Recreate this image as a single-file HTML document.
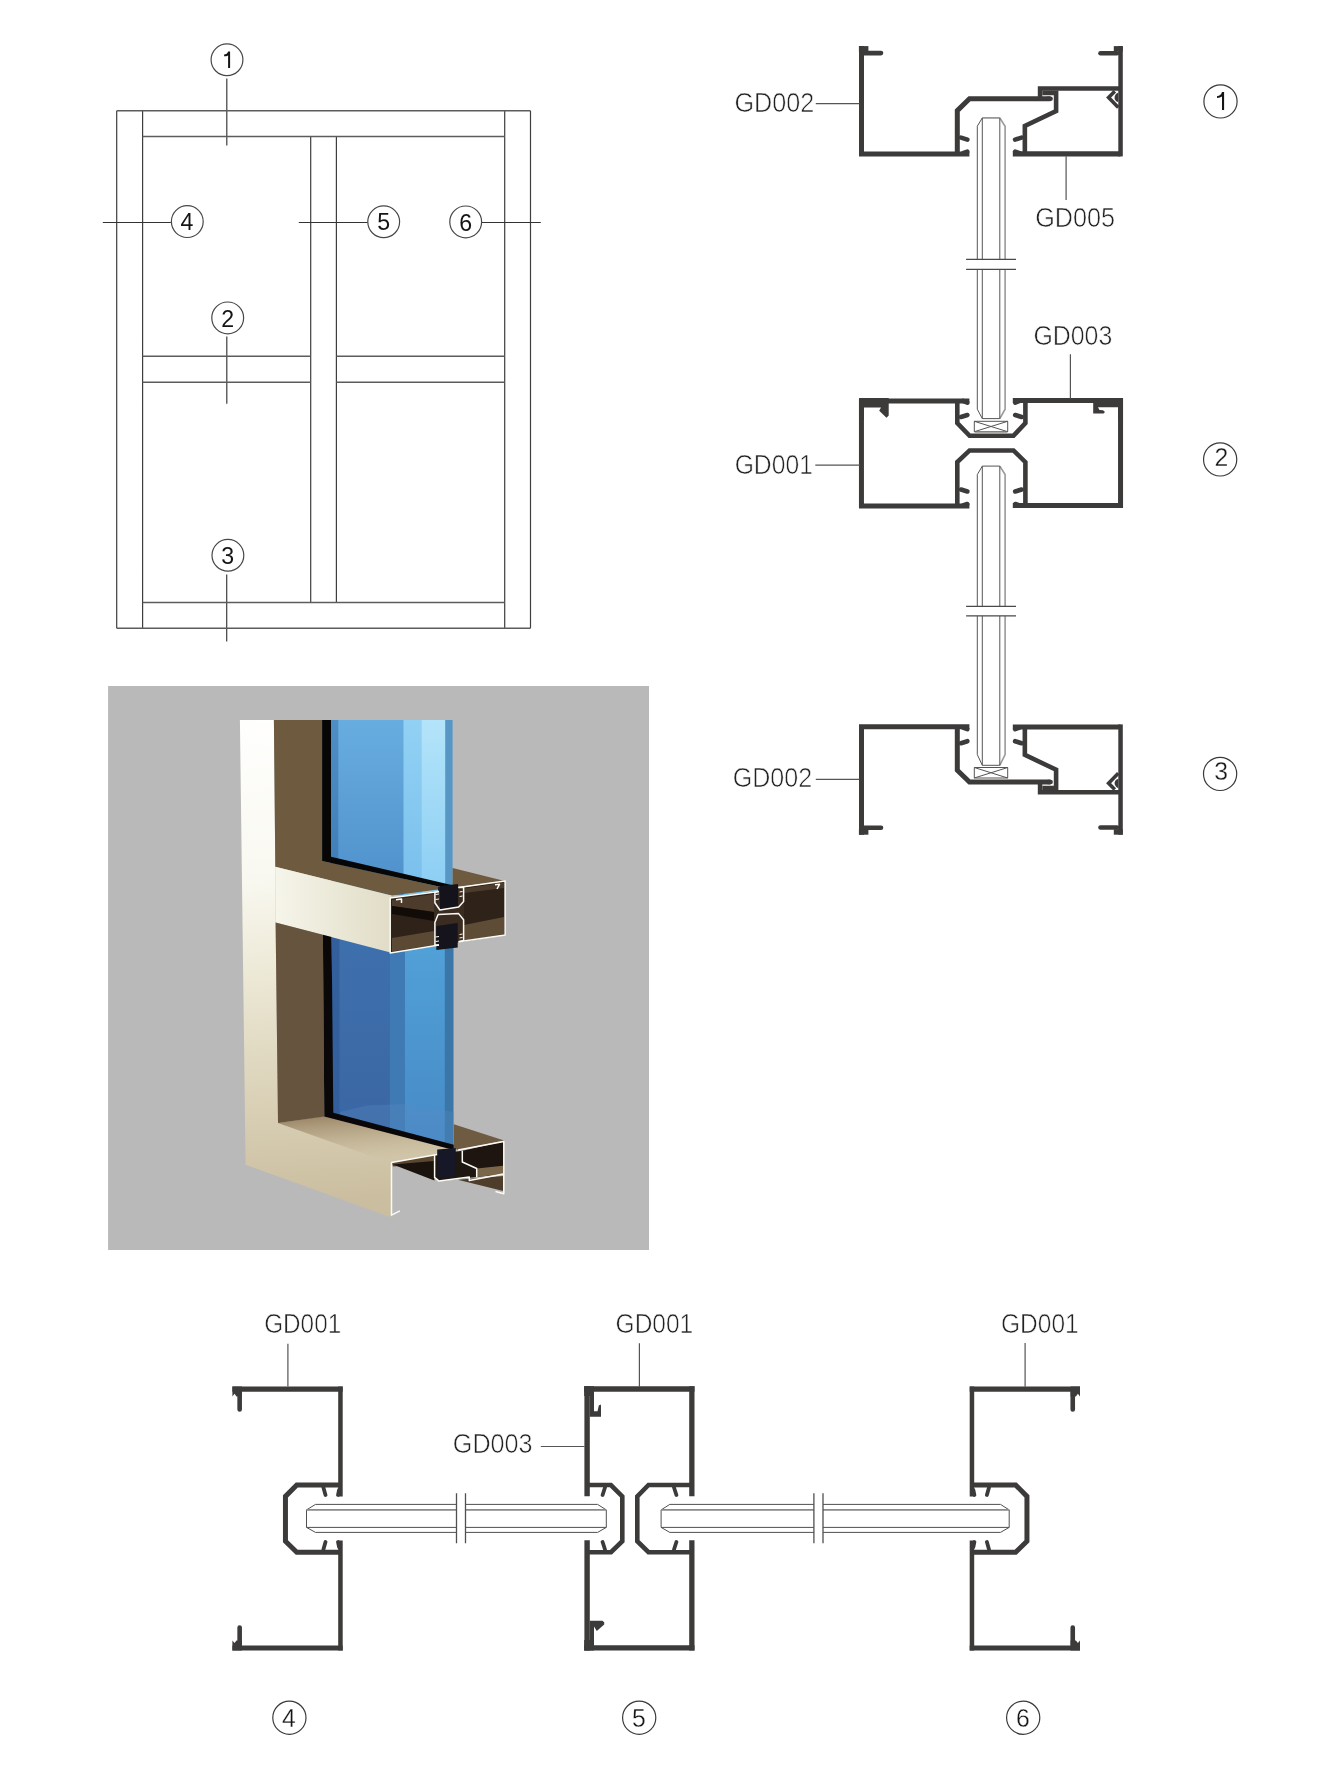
<!DOCTYPE html>
<html><head><meta charset="utf-8">
<style>
html,body{margin:0;padding:0;background:#fff;}
body{width:1342px;height:1780px;overflow:hidden;}
svg{display:block;will-change:transform;}
text{font-family:"Liberation Sans",sans-serif;}
</style></head>
<body>
<svg width="1342" height="1780" viewBox="0 0 1342 1780">
<rect width="1342" height="1780" fill="#fff"/>

<!-- ===== ELEVATION ===== -->
<g id="elev" stroke="#474747" stroke-width="1.3" fill="none">
  <path d="M116.7 110.7V628.2M530.5 110.7V628.2M142.6 110.7V628.2M504.7 110.7V628.2M310.7 136.6V602.4M336.4 136.6V602.4M226.8 78.6V145.6M226.8 336.4V403.8M226.7 574.5V641.6" stroke="#3e3e3e" stroke-width="1.2"/>
  <path d="M116.7 110.7H530.5M116.7 628.2H530.5M142.6 136.6H504.7M142.6 602.4H504.7M142.6 356.2H310.7M142.6 382.2H310.7M336.4 356.2H504.7M336.4 382.2H504.7" stroke="#5c5c5c" stroke-width="1.5"/>
  <path d="M102.8 222.5H170.9M298.8 222.5H367.6M482 222.5H540.8" stroke="#333" stroke-width="1.15"/>
  <g stroke-width="1.2">
  <circle cx="227" cy="59.8" r="15.9"/>
  <circle cx="227.7" cy="317.9" r="15.9"/>
  <circle cx="227.9" cy="555.3" r="15.9"/>
  <circle cx="187.3" cy="221.6" r="15.9"/>
  <circle cx="383.7" cy="221.8" r="15.9"/>
  <circle cx="465.7" cy="221.9" r="15.9"/>
  </g>
</g>
<g id="elevnums" fill="#151515" font-size="24" text-anchor="middle">
  <text transform="translate(227.7 326.6) scale(0.965 1)">2</text>
  <text transform="translate(227.7 563.8) scale(0.965 1)">3</text>
  <text transform="translate(187.0 229.9) scale(0.965 1)">4</text>
  <text transform="translate(383.6 230.3) scale(0.965 1)">5</text>
  <text transform="translate(465.8 230.5) scale(0.965 1)">6</text>
</g>

<path d="M228.1 51.5H230.1V68H228.1V55.4C227 56 225.5 56.3 224.1 56.3V54.6C226 54.5 227.6 53.4 228.1 51.5Z" fill="#151515"/>
<path d="M1222 92.1H1224.1V110H1222V96.6C1220.8 97.4 1219 97.9 1217 97.9V96.2C1219.5 96.1 1221.3 94.8 1222 92.1Z" fill="#151515"/>
<!-- ===== PHOTO ===== -->
<g id="photo">
  <defs>
    <linearGradient id="cream" gradientUnits="userSpaceOnUse" x1="0" y1="720" x2="30" y2="1217">
      <stop offset="0" stop-color="#ffffff"/>
      <stop offset="0.35" stop-color="#f9f8f0"/>
      <stop offset="0.55" stop-color="#ece8d5"/>
      <stop offset="0.75" stop-color="#ddd5bc"/>
      <stop offset="1" stop-color="#cbbea0"/>
    </linearGradient>
    <linearGradient id="trface" x1="0" y1="0" x2="1" y2="0">
      <stop offset="0" stop-color="#f6f5ea"/>
      <stop offset="1" stop-color="#e0dcc6"/>
    </linearGradient>
    <linearGradient id="g1" x1="0" y1="0" x2="0" y2="1">
      <stop offset="0" stop-color="#68ade0"/>
      <stop offset="1" stop-color="#4e8fca"/>
    </linearGradient>
    <linearGradient id="ga" x1="0" y1="0" x2="0" y2="1">
      <stop offset="0" stop-color="#4f8ec4"/>
      <stop offset="1" stop-color="#3d7bb6"/>
    </linearGradient>
    <linearGradient id="gc" x1="0" y1="0" x2="0" y2="1">
      <stop offset="0" stop-color="#92d1f4"/>
      <stop offset="1" stop-color="#78bfec"/>
    </linearGradient>
    <linearGradient id="gd" x1="0" y1="0" x2="0" y2="1">
      <stop offset="0" stop-color="#b4e4fa"/>
      <stop offset="1" stop-color="#8acdf3"/>
    </linearGradient>
    <linearGradient id="g2" x1="0" y1="0" x2="0" y2="1">
      <stop offset="0" stop-color="#3e70ad"/>
      <stop offset="1" stop-color="#3a66a3"/>
    </linearGradient>
    <linearGradient id="ge" x1="0" y1="0" x2="0" y2="1">
      <stop offset="0" stop-color="#52a2d8"/>
      <stop offset="1" stop-color="#4689c6"/>
    </linearGradient>
    <linearGradient id="sillshadow" x1="0" y1="0" x2="0.3" y2="1">
      <stop offset="0" stop-color="#8c7656" stop-opacity="0.9"/>
      <stop offset="1" stop-color="#b9a583" stop-opacity="0"/>
    </linearGradient>
  </defs>
  <rect x="108.1" y="686" width="540.9" height="564" fill="#b9b9b9"/>
  <!-- upper glass -->
  <rect x="331" y="720" width="8.0" height="175" fill="url(#ga)"/>
  <rect x="338.3" y="720" width="65.9" height="175" fill="url(#g1)"/>
  <rect x="403.5" y="720" width="18.9" height="175" fill="url(#gc)"/>
  <rect x="421.7" y="720" width="24.2" height="175" fill="url(#gd)"/>
  <rect x="445.2" y="720" width="7.4" height="175" fill="#5797c6"/>
  <!-- lower glass -->
  <rect x="332" y="930" width="8.2" height="225" fill="#33609d"/>
  <rect x="339.5" y="930" width="51.1" height="225" fill="url(#g2)"/>
  <rect x="389.9" y="930" width="15.8" height="225" fill="#3f7ab5"/>
  <rect x="405" y="930" width="40.5" height="225" fill="url(#ge)"/>
  <rect x="444.8" y="930" width="8.7" height="225" fill="#3a77a8"/>
  <path d="M340 1112L367 1105.6L405 1104L453.8 1112V1146L340 1116Z" fill="#5a8cc4" opacity="0.3"/>
  <!-- cream front (stile + sill) -->
  <path d="M239.9 719.9H273.9L275.3 866.8L275.6 922.4L278 1123L324.3 1116L453.8 1148L437 1155L391.8 1163.4V1215.4L389.9 1217L245.6 1164.8Z" fill="url(#cream)"/>
  <path d="M278 1123L324.3 1116L453.8 1148L391.8 1163.4Z" fill="url(#sillshadow)"/>
  <!-- upper brown reveal + transom top -->
  <path d="M273.9 720H322.1V861L452.6 889.6V868L504.7 880.9L391.5 895.5L275.3 866.8Z" fill="#6d5a3f"/>
  <path d="M322.1 720H331V856.8L452.6 885.3V889.6L322.1 861Z" fill="#070607"/>
  <path d="M438 887L453 885V900L438 902Z" fill="#1a1d2c"/>
  <!-- transom front -->
  <path d="M275.3 866.8L391.5 895.5V952.8L275.6 922.4Z" fill="url(#trface)"/>
  <!-- lower brown reveal -->
  <path d="M275.6 922.4L322.9 934.8L324.3 1116.4L278 1123Z" fill="#67543e"/>
  <path d="M322.9 934.8L331.6 937L333.3 1112.8L453.8 1144.8V1150L324.3 1116.4Z" fill="#0a0708"/>
  <!-- transom section -->
  <path d="M390.2 897.9L505.1 880.9V935L390.2 952.9Z" fill="#2e2219"/>
  <path d="M392 900L434 894V912L392 906Z" fill="#4d3c2c"/>
  <path d="M392 906L434 912V921L392 914Z" fill="#120c09"/>
  <path d="M392 938L434 931V945L392 951.5Z" fill="#5b4934"/>
  <path d="M464 888.5L504 882.5V888L464 893Z" fill="#4d3c2c"/>
  <path d="M464 925L504 917V934L464 941Z" fill="#5f4c37"/>
  <path d="M434 893L464 889V941L434 945Z" fill="#3a2c21"/>
  <path d="M440 886L458 884V906.5L440 909.5Z" fill="#14121a"/>
  <path d="M436.3 926L457.7 923V947.5L436.3 950Z" fill="#15141d"/>
  <g fill="none" stroke="#fbfbf5" stroke-width="1.5" stroke-linejoin="round">
    <path d="M439 891.6L390.2 897.9V952.9L439 944.9"/>
    <path d="M458.6 887.6L505.1 880.9V935L458.6 941.7"/>
    <path d="M439 891.6L434.9 892.3V902.8L439.9 910L458.6 906.9L463.6 901.5V887.6L458.6 887.6"/>
    <path d="M439 944.9L434.9 945V922.5L438.1 914.5L458.6 913.6L463.6 919.8V940.4L458.6 941.7"/>
    <path d="M396 899.8L401.5 899V903M495 884.8L499.5 884.3L497 889"/>
    <path d="M435.5 894.5L439 894M435.5 899.5L439 899M462.5 891.5L459.5 892M462.5 896L459.5 896.5M435.5 937L439 936.5M435.5 941.5L439 941M462.5 934L459.5 934.5M462.5 937.5L459.5 938" stroke-width="1"/>
  </g>
  <!-- sill right brown top -->
  <path d="M453.8 1124.3L504.1 1140.5L458.1 1149.9L453.8 1148Z" fill="#6f5a42"/>
  <!-- sill section -->
  <path d="M391.5 1162.5L437.2 1154.6V1163L392.9 1166.5Z" fill="#5a4631"/>
  <path d="M392.9 1164.5L434.4 1161V1180.6Z" fill="#1a120d"/>
  <path d="M462.3 1150.8L503.8 1141.5V1174.1L476.7 1176.9V1168.5L462.3 1162Z" fill="#1e1510"/>
  <path d="M476.7 1168.5L503 1165.7V1174.1L476.7 1176.9Z" fill="#7a6649"/>
  <path d="M457.7 1179.7L503.3 1176V1191Z" fill="#4e3d2b"/>
  <path d="M434.4 1154.6L462.3 1150.8V1162L476.7 1168.5V1176.9L439 1181.1L434.4 1177.4Z" fill="#1e1611"/>
  <path d="M437.2 1149.5L455.8 1148V1176L437.2 1178Z" fill="#161828"/>
  <g fill="none" stroke="#fbfbf5" stroke-width="1.5" stroke-linejoin="round">
    <path d="M399.9 1210.9L391.5 1215.1V1162.5L437.2 1154.6"/>
    <path d="M434.6 1154.6V1177.4L439 1181.1L469.3 1176.9V1180.6L503.3 1174.1"/>
    <path d="M458.1 1149.9L503.8 1141.5V1193.7L495.5 1191.5"/>
    <path d="M462.3 1150.8V1162L476.7 1168.5V1176.9"/>
  </g>
</g>
<!-- ===== VERTICAL SECTION ===== -->
<g id="vsec">
<defs>
<g id="det1">
 <g fill="none" stroke="#3d3a3a" stroke-width="5" stroke-linejoin="miter" stroke-miterlimit="10">
  <path d="M861.5 46.1V154.05H969.4"/>
  <path d="M957.3 154V110.6L969.5 98.75H1050.5" />
  <path d="M1040.05 100V88.55H1120.55" stroke-width="4.5"/>
  <path d="M1120.55 46.1V156.4" stroke-width="4.5"/>
  <path d="M1042.3 92.85H1056.1V111L1024.85 126V154" stroke-width="4.6"/>
  <path d="M1012.8 153.8H1120.5" stroke-width="5.2"/>
 </g>
 <g fill="none" stroke="#3d3a3a" stroke-width="4.6" stroke-linecap="round">
  <path d="M864 53.1H881"/>
  <path d="M1117 53.3H1100.5"/>
  <path d="M961 137.6L967.4 139.6"/>
  <path d="M963 153.2L967.3 151.6"/>
  <path d="M1021.5 137.6L1015.1 139.6"/>
  <path d="M1019.5 153.2L1015.2 151.6"/>
  <path d="M1048 98.75H1050.6"/>
 </g>
 <path d="M1114.8 91.2L1108.6 97.6L1118.3 107.5" fill="none" stroke="#3d3a3a" stroke-width="3.6"/>
 <g fill="#3d3a3a">
  <rect x="858.9" y="46.1" width="9.5" height="5.5"/>
  <rect x="1113.8" y="46.1" width="9" height="5.5"/>
  <path d="M1118.4 92.5C1115.8 93.6 1114.3 95.8 1114.6 98.2C1114.9 100.4 1116.6 101.8 1118.4 101.9Z"/>
 </g>
</g>
</defs>
<use href="#det1"/>
<use href="#det1" transform="matrix(1 0 0 -1 0 880.8)"/>
<g id="d2" fill="none" stroke="#3d3a3a" stroke-width="5" stroke-linejoin="miter" stroke-miterlimit="10">
  <path d="M969.4 400.9H861.45V505.9H969.4"/>
  <path d="M957.3 400.9V423L969.6 435.75H1013.5L1025.4 423.1V400.9" stroke-width="4.6"/>
  <path d="M957.3 505.9V462.1L969.6 450.45H1013.5L1025.4 462.1V505.9" stroke-width="4.6"/>
  <path d="M1012.8 400.45H1120.55V505.6H1012.8"/>
</g>
<g fill="none" stroke="#3d3a3a" stroke-width="4.6" stroke-linecap="round">
  <path d="M963 400.9L967.3 402.6M961 417L967.4 415M961 489.5L967.4 491.5M963 505.5L967.3 504"/>
  <path d="M1019.6 400.9L1015.3 402.6M1021.6 417L1015.2 415M1021.6 489.5L1015.2 491.5M1019.6 505.5L1015.3 504"/>
</g>
<g id="glassv" fill="none" stroke="#555" stroke-width="1">
  <path d="M1005.1 259.4V126.2L999.8 117.9" stroke="#9a9a9a" stroke-width="1.6"/>
  <path d="M982.3 117.9H999.8" stroke="#999" stroke-width="1.8"/>
  <path d="M977.3 259.4V126.2L982.3 117.9V259.4M999.8 117.9V259.4"/>
  <path d="M1005.1 269.4V409.2L999.8 418.6M1005.1 606.4V474.6L999.8 466.1M1005.1 615.9V754.6L999.8 765.3" stroke="#9a9a9a" stroke-width="1.6"/>
  <path d="M977.3 269.4V409.2L982.3 418.6H999.8V269.4M982.3 269.4V418.6"/>
  <path d="M977.3 606.4V474.6L982.3 466.1H999.8V606.4M982.3 466.1V606.4"/>
  <path d="M977.3 615.9V754.6L982.3 765.3H999.8V615.9M982.3 615.9V765.3"/>
  <path d="M966.1 259.4H1016M966.1 269.4H1016M966.1 606.4H1016M966.1 615.9H1016" stroke-width="1.3" stroke="#4a4a4a"/>
  <path d="M974.3 421.3H1007.7V431.7H974.3ZM974.3 421.3L1007.7 431.7M974.3 431.7L1007.7 421.3"/>
  <path d="M975 432.5H1007" stroke="#aaa" stroke-width="1.5"/>
  <path d="M974.3 767.5H1007.7V778H974.3ZM974.3 767.5L1007.7 778M974.3 778L1007.7 767.5"/>
  <path d="M975 778.8H1007" stroke="#aaa" stroke-width="1.5"/>
</g>
</g>
<!-- ===== HORIZONTAL SECTION ===== -->
<g id="hsec">
<defs>
<g id="det4">
 <g fill="none" stroke="#3d3a3a" stroke-linejoin="miter" stroke-miterlimit="10">
  <path d="M232.4 1389.1H342.7" stroke-width="5.4"/>
  <path d="M232.4 1648H342.7" stroke-width="5"/>
  <path d="M340.45 1386.4V1496.5M340.45 1540.4V1650.5" stroke-width="4.5"/>
  <path d="M340.45 1484.9H296.8L285.45 1496.4V1541.2L296.8 1552.35H340.45" stroke-width="5"/>
 </g>
 <g fill="none" stroke="#3d3a3a" stroke-width="4.6" stroke-linecap="round">
  <path d="M239.65 1392V1409.4M239.65 1645V1627.6"/>
 </g>
 <g fill="none" stroke="#3d3a3a" stroke-width="3.8" stroke-linecap="round">
  <path d="M323.4 1487.5L325.5 1495M325.5 1542L323.4 1549.5M339 1490L338 1495M339 1547L338 1542"/>
 </g>
 <g fill="#3d3a3a">
  <path d="M232.4 1386.4H241.8V1396.5H236.5L234.5 1393.8L232.4 1396.5Z"/>
  <path d="M232.4 1650.5H241.8V1640.4H236.5L234.5 1643L232.4 1640.4Z"/>
 </g>
</g>
</defs>
<use href="#det4"/>
<use href="#det4" transform="matrix(-1 0 0 1 1312.4 0)"/>
<g fill="none" stroke="#3d3a3a" stroke-linejoin="miter" stroke-miterlimit="10">
  <path d="M584.2 1389.05H694.5" stroke-width="5.5"/>
  <path d="M584.2 1647.9H694.5" stroke-width="5.2"/>
  <path d="M587.1 1386.3V1496.2M587.1 1540.2V1650.5" stroke-width="5.4"/>
  <path d="M691.85 1386.3V1496.2M691.85 1540.2V1650.5" stroke-width="5.3"/>
  <path d="M587.1 1485H610.9L622.3 1496.4V1541.2L611 1552.2H587.1" stroke-width="4.6"/>
  <path d="M691.85 1485H648.5L637.3 1496.4V1541.2L648.5 1552.2H691.85" stroke-width="4.6"/>
</g>
<g fill="none" stroke="#3d3a3a" stroke-width="3.8" stroke-linecap="round">
  <path d="M605 1487.5L602.6 1495M602.6 1542L605 1549.5"/>
  <path d="M674 1487.5L676.4 1495M676.4 1542L674 1549.5"/>
</g>
<g fill="#3d3a3a">
  <path d="M584.2 1386.3H594V1411.3H597.5L598.8 1405.5L600.5 1404.4L601 1405.5V1416.7H589.8V1396L584.2 1396Z"/>
  <path d="M584.2 1650.5H594V1626.5L596.8 1631L604.2 1624.4V1622.2L602.4 1620.7H589.8V1640L584.2 1640Z"/>
  <path d="M859.1 398.1H888.7V415.5L886.5 417.7L879.2 410.8L881 407.4H863.9V420H859.1Z"/>
  <path d="M1122.8 398.3H1093.2V413.6H1103.5L1105 412L1103 410.3L1099.5 409.9L1098 407.3H1118.2V420H1122.8Z"/>
</g>
<g fill="none" stroke="#505050" stroke-width="1">
  <path d="M456.5 1504.4H315.5L306.5 1509.9V1527.4L315.5 1532.4H456.5M306.5 1527.4H456.5"/>
  <path d="M306.5 1509.9H456.5" stroke="#8a8a8a" stroke-width="1.8"/>
  <path d="M465.5 1504.4H597.6L606.3 1509.9V1527.4L597.6 1532.4H465.5M465.5 1527.4H606.3"/>
  <path d="M465.5 1509.9H606.3" stroke="#8a8a8a" stroke-width="1.8"/>
  <path d="M813.9 1504.4H669.8L661.1 1509.9V1527.4L669.8 1532.4H813.9M661.1 1527.4H813.9"/>
  <path d="M661.1 1509.9H813.9" stroke="#8a8a8a" stroke-width="1.8"/>
  <path d="M823 1504.4H1000.5L1009.2 1509.9V1527.4L1000.5 1532.4H823M823 1527.4H1009.2"/>
  <path d="M823 1509.9H1009.2" stroke="#8a8a8a" stroke-width="1.8"/>
  <path d="M456.5 1493.2V1543.3M465.5 1493.2V1543.3M813.9 1493.2V1543.3M823 1493.2V1543.3" stroke-width="1.3"/>
</g>
</g>


<!-- ===== LABELS ===== -->
<g id="labels" fill="#222" font-size="26.8" stroke="#fff" stroke-width="0.6">
  <text x="734.54" y="112.0" textLength="79.77" lengthAdjust="spacingAndGlyphs">GD002</text>
  <text x="1035.24" y="226.9" textLength="79.87" lengthAdjust="spacingAndGlyphs">GD005</text>
  <text x="1033.46" y="344.5" textLength="78.84" lengthAdjust="spacingAndGlyphs">GD003</text>
  <text x="734.67" y="473.5" textLength="78.22" lengthAdjust="spacingAndGlyphs">GD001</text>
  <text x="732.65" y="787.4" textLength="79.46" lengthAdjust="spacingAndGlyphs">GD002</text>
  <text x="264.18" y="1332.9" textLength="76.98" lengthAdjust="spacingAndGlyphs">GD001</text>
  <text x="615.57" y="1332.9" textLength="77.70" lengthAdjust="spacingAndGlyphs">GD001</text>
  <text x="1001.07" y="1333.1" textLength="77.60" lengthAdjust="spacingAndGlyphs">GD001</text>
  <text x="452.84" y="1453.4" textLength="79.77" lengthAdjust="spacingAndGlyphs">GD003</text>
</g>
<g id="leaders" stroke="#555" stroke-width="1.2" fill="none">
  <path d="M815.8 103.6H859.5M1066.1 156.3V200M1070.4 354.3V398.6M815.3 465.2H860M815.8 779.3H859.5"/>
  <path d="M287.9 1343.8V1386.5M639.4 1343.2V1387M1025.1 1342.9V1386.7M540.8 1446.5H584.6"/>
</g>
<g id="circs" stroke="#3a3a3a" stroke-width="1.2" fill="none">
  <circle cx="1220.5" cy="101.4" r="16.6"/>
  <circle cx="1220.15" cy="459.4" r="16.6"/>
  <circle cx="1220.1" cy="773.9" r="16.6"/>
  <circle cx="289.4" cy="1717.7" r="16.6"/>
  <circle cx="639.2" cy="1717.7" r="16.6"/>
  <circle cx="1023.2" cy="1717.7" r="16.6"/>
</g>
<g id="circnums" fill="#151515" font-size="25.8" text-anchor="middle" stroke="#fff" stroke-width="0.3">
  <text transform="translate(1221.5 465.7) scale(0.96 1)">2</text>
  <text transform="translate(1221.2 780.0) scale(0.96 1)">3</text>
  <text transform="translate(289.0 1726.7) scale(0.96 1)">4</text>
  <text transform="translate(639.0 1726.8) scale(0.96 1)">5</text>
  <text transform="translate(1023.0 1726.8) scale(0.96 1)">6</text>
</g>
</svg>
</body></html>
